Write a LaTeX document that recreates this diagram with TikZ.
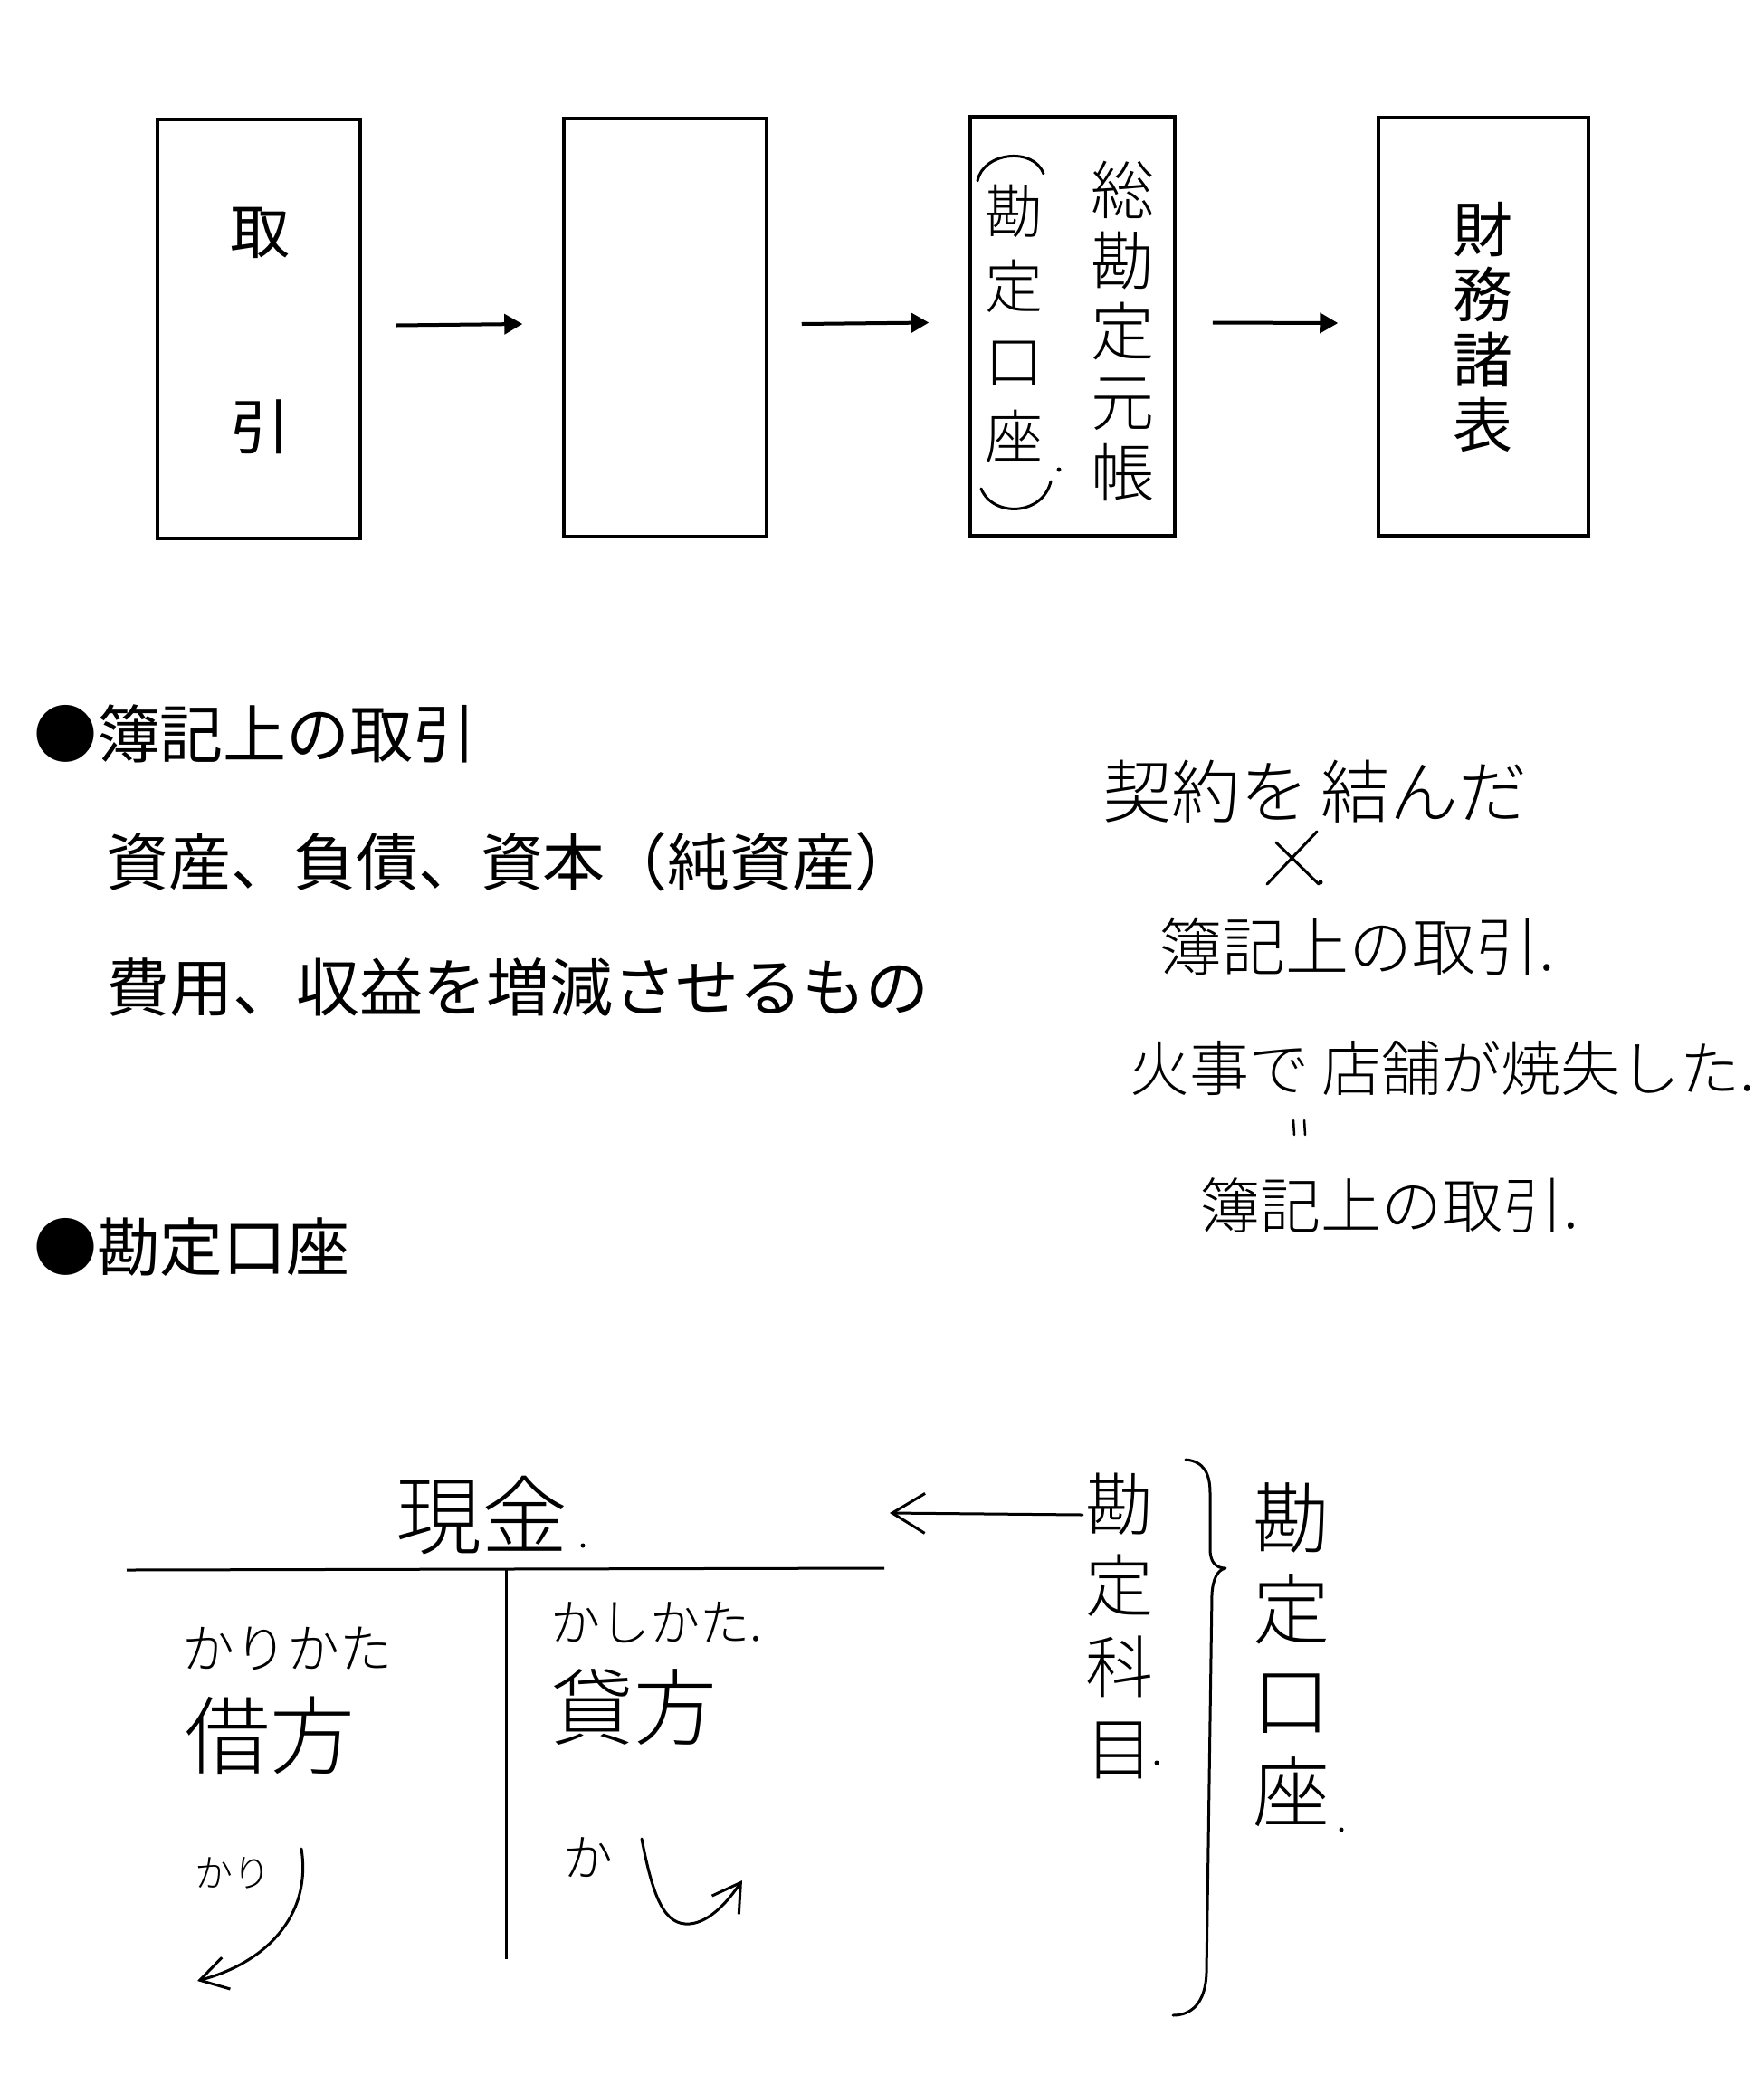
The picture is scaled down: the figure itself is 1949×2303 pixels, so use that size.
\documentclass[tikz,border=0pt]{standalone}
\usepackage{fontspec}
\IfFontExistsTF{Noto Sans CJK JP Light}
  {\setmainfont{Noto Sans CJK JP Light}}
  {\setmainfont{Noto Sans CJK JP}}
\newfontfamily\prfont{Noto Sans CJK JP}
\usetikzlibrary{arrows.meta}
\newcommand\jfs[2]{\fontsize{#1pt}{#2pt}\selectfont}
\begin{document}
\begin{tikzpicture}[x=1pt,y=-1pt,
  box/.style={draw, line width=3.5pt, inner sep=0pt},
  arr/.style={line width=4pt, -{Triangle[length=20pt,width=22pt]}},
  pen/.style={line width=3pt, line cap=round, line join=round},
  barb/.style={pen, -{Straight Barb[length=30pt,width=36pt]}},
  txt/.style={inner sep=0pt, outer sep=0pt},
  col/.style={txt, align=center}]
\fill[white] (0,0) rectangle (1949,2303);
\useasboundingbox (0,0) rectangle (1949,2303);

% ---- top flow ----
\node[box, minimum width=224pt, minimum height=463pt] (b1) at (286,363.5) {};
\node[box, minimum width=224pt, minimum height=462pt] (b2) at (735,362) {};
\node[box, minimum width=226pt, minimum height=463pt] (b3) at (1185,360.5) {};
\node[box, minimum width=232pt, minimum height=462pt] (b4) at (1639,361) {};

\node[txt, font=\prfont\jfs{66}{66}] (t1a) at (287,257) {取};
\node[txt, font=\prfont\jfs{66}{66}] (t1b) at (287,472) {引};

\node[col, font=\jfs{64}{83}] (t3a) at (1120,358) {勘\\定\\口\\座};
\node[col, font=\jfs{70}{78}] (t3b) at (1240,366) {総\\勘\\定\\元\\帳};
\draw[pen] (1080,200) .. controls (1086,168) and (1142,162) .. (1153,192);
\draw[pen] (1084,540) .. controls (1097,572) and (1152,570) .. (1161,532);
\fill (1170,519) circle (2.5pt);

\node[col, font=\prfont\jfs{66}{72}] (t4) at (1638,362) {財\\務\\諸\\表};

\draw[arr] ([yshift=4pt,xshift=38pt]b1.east) -- ([yshift=4pt,xshift=-44pt]b2.west);
\draw[arr] ([yshift=4pt,xshift=37pt]b2.east) -- ([yshift=4pt,xshift=-44pt]b3.west);
\draw[arr] ([yshift=4pt,xshift=40pt]b3.east) -- ([yshift=4pt,xshift=-43pt]b4.west);

% ---- printed bullets ----
\node[txt, anchor=west, font=\prfont\jfs{70}{70}] (h1) at (37,811) {●簿記上の取引};
\node[txt, anchor=west, font=\prfont\jfs{69}{69}] (l1) at (117,952) {資産、負債、資本（純資産）};
\node[txt, anchor=west, font=\prfont\jfs{70}{70}] (l2) at (117,1091) {費用、収益を増減させるもの};
\node[txt, anchor=west, font=\prfont\jfs{70}{70}] (h2) at (37,1378) {●勘定口座};

% ---- handwritten notes right ----
\node[txt, anchor=west, font=\jfs{76}{76}] (n1) at (1218,875) {契約を\hspace{14pt}結んだ};
\coordinate (x1a) at (1400,977); \coordinate (x1b) at (1455,919);
\coordinate (x2a) at (1410,931); \coordinate (x2b) at (1457,977);
\draw[pen] (x1a) -- (x1b);
\draw[pen] (x2a) -- (x2b);
\fill (1459,975) circle (2.5pt);
\node[txt, anchor=west, font=\jfs{70}{70}] (n2) at (1280,1046) {簿記上の取引.};
\node[txt, anchor=west, font=\jfs{66}{66}] (n3) at (1248,1180) {火事で\hspace{14pt}店舗が焼失した.};
\coordinate (e1a) at (1429,1238); \coordinate (e1b) at (1430,1254);
\coordinate (e2a) at (1441,1238); \coordinate (e2b) at (1442,1254);
\draw[pen, line width=2.5pt] (e1a) -- (e1b);
\draw[pen, line width=2.5pt] (e2a) -- (e2b);
\node[txt, anchor=west, font=\jfs{67}{67}] (n4) at (1325,1332) {簿記上の取引.};

% ---- T account ----
\node[txt, anchor=west, font=\jfs{95}{95}] (cash) at (437,1675) {現金};
\fill (644,1708) circle (2.5pt);
\coordinate (hl) at (140,1735); \coordinate (hr) at (977,1733);
\coordinate (vt) at (559,1735); \coordinate (vb) at (559,2165);
\draw[line width=3pt] (hl) -- (hr);
\draw[line width=3pt] (vt) -- (vb);

\node[txt, anchor=west, font=\jfs{58}{58}] (kk) at (201,1822) {かりかた};
\node[txt, anchor=west, font=\jfs{94}{94}] (kh) at (204,1918) {借方};
\node[txt, anchor=west, font=\jfs{55}{55}] (sk) at (608,1793) {かしかた.};
\node[txt, anchor=west, font=\jfs{92}{92}] (sh) at (608,1887) {貸方};
\node[txt, anchor=west, font=\jfs{42}{42}] (kr) at (215,2070) {かり};
\node[txt, anchor=west, font=\jfs{55}{55}] (ka) at (622,2053) {か};

\coordinate (ka1) at (333,2043); \coordinate (ka2) at (218,2189);
\draw[barb] (ka1) .. controls (345,2120) and (290,2170) .. (ka2);
\coordinate (sa1) at (709,2032); \coordinate (sam) at (762,2126); \coordinate (sa2) at (820,2078);
\draw[barb] (sa1) .. controls (722,2100) and (735,2128) .. (sam) .. controls (785,2124) and (805,2100) .. (sa2);

% ---- labels right ----
\node[col, font=\jfs{75}{90}] (kam) at (1237,1797) {勘\\定\\科\\目};
\fill (1278,1948) circle (2.5pt);
\coordinate (la1) at (1196,1674); \coordinate (la2) at (983,1672);
\draw[pen, -{Straight Barb[length=36pt,width=44pt]}] (la1) -- (la2);

\draw[pen] (1310,1613) .. controls (1330,1615) and (1337,1628) .. (1337,1650)
  -- (1337,1712) .. controls (1337,1728) and (1345,1733) .. (1354,1733)
  .. controls (1345,1735) and (1340,1745) .. (1339,1762)
  -- (1333,2180) .. controls (1332,2214) and (1316,2227) .. (1296,2227);

\node[col, font=\jfs{85}{101}] (kza) at (1427,1829) {勘\\定\\口\\座};
\fill (1482,2022) circle (2.5pt);
\end{tikzpicture}
\end{document}
